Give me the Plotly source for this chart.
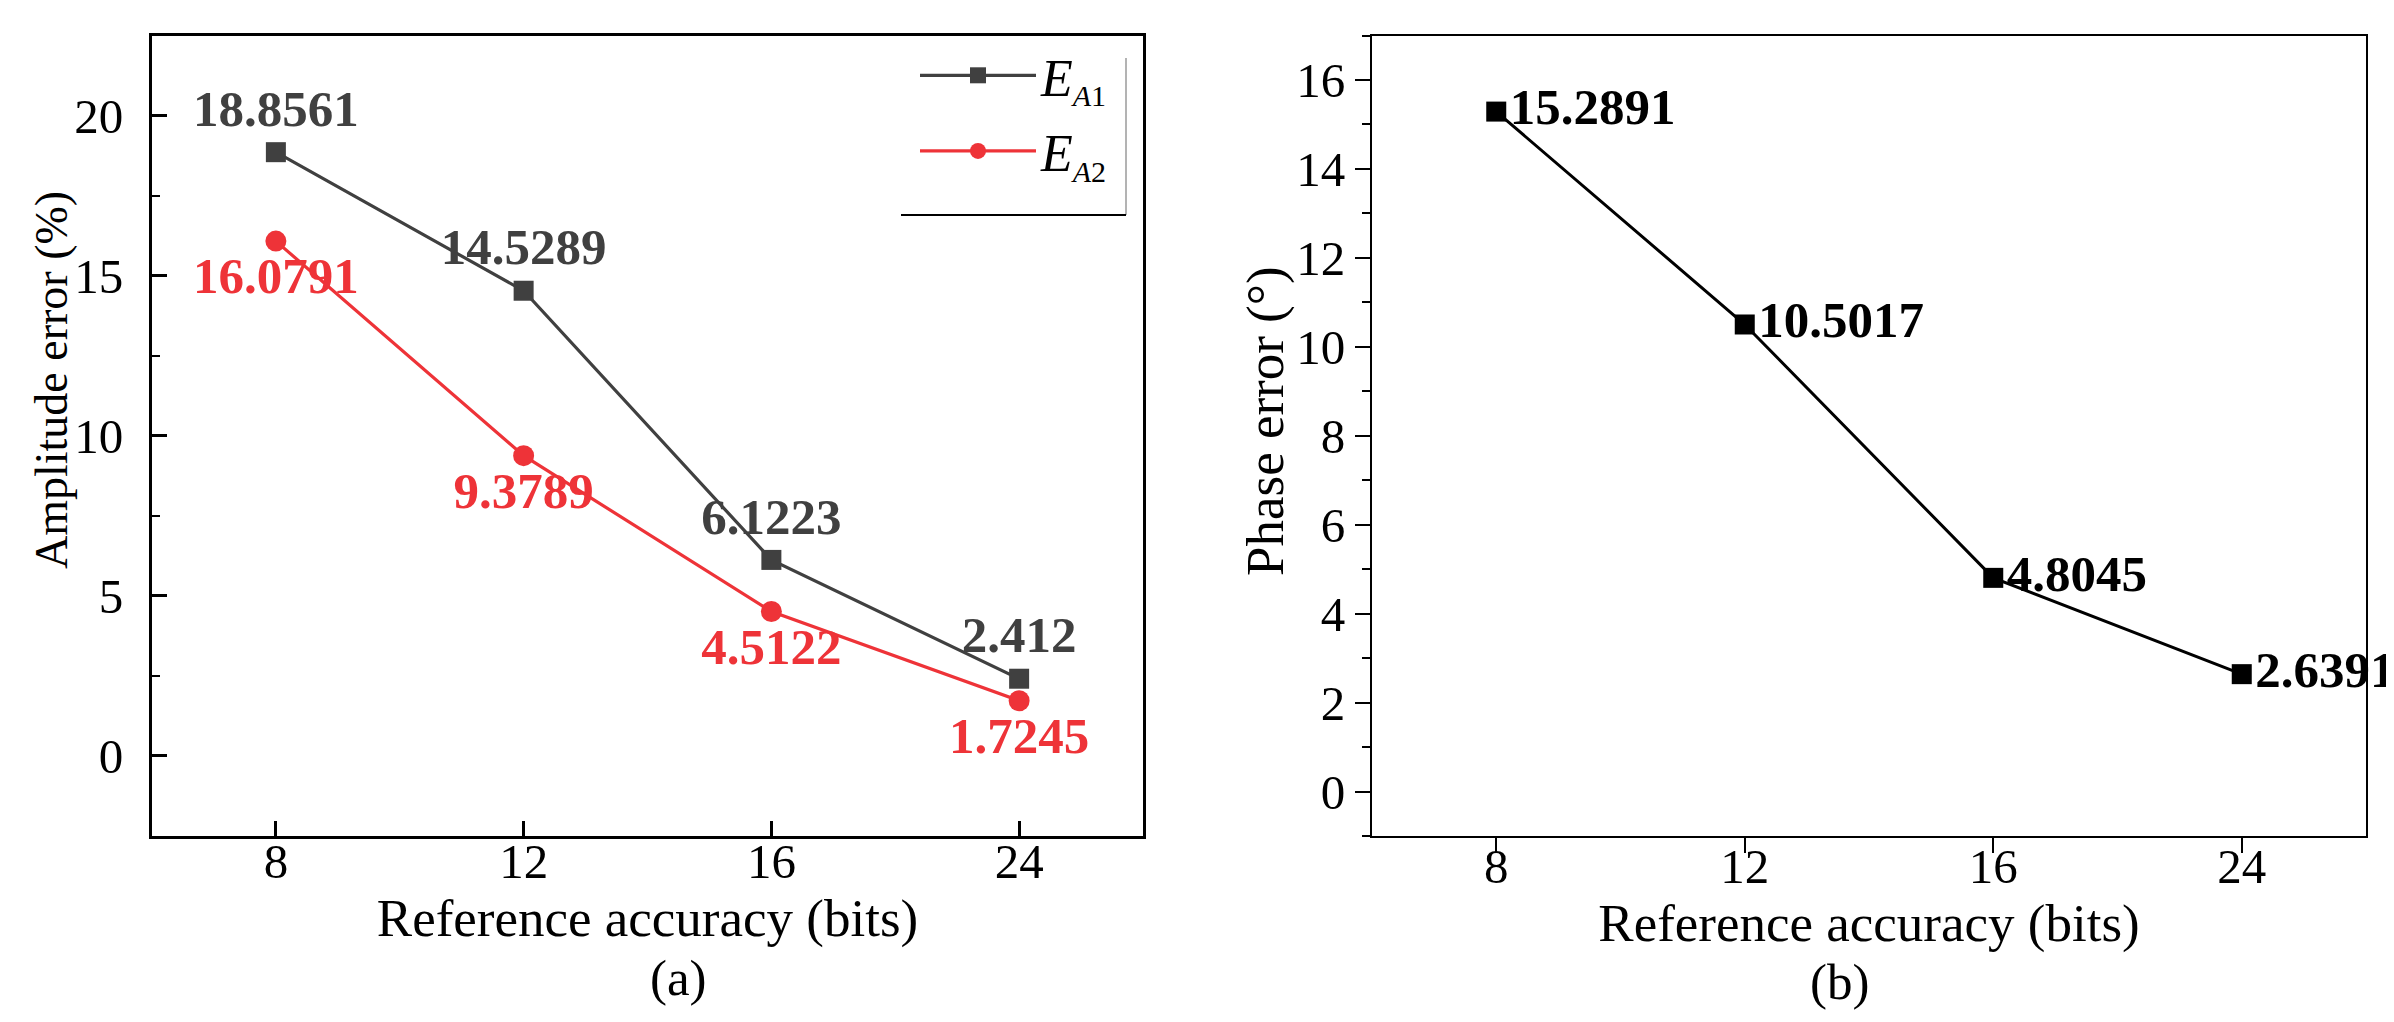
import plotly.graph_objects as go

# ---- data ----
bits = ["8", "12", "16", "24"]
amp_ea1 = [18.8561, 14.5289, 6.1223, 2.412]
amp_ea2 = [16.0791, 9.3789, 4.5122, 1.7245]
phase_err = [15.2891, 10.5017, 4.8045, 2.6391]

name_ea1 = "<i>E</i><sub><span style='font-size:30px'><i>A</i>1</span></sub>"
name_ea2 = "<i>E</i><sub><span style='font-size:30px'><i>A</i>2</span></sub>"

GRAY = "#404040"
RED = "#EE3338"
FONT = "Liberation Serif"
W, H = 2394, 1022

fig = go.Figure()

fig.add_trace(go.Scatter(
    x=bits, y=amp_ea1, name=name_ea1, legendgroup="a", mode="lines+markers+text",
    line=dict(color=GRAY, width=3.2),
    marker=dict(symbol="square", size=20, color=GRAY),
    text=[str(v) for v in amp_ea1], textposition="top center",
    textfont=dict(family=FONT, size=51, color=GRAY, weight="bold"),
    cliponaxis=False, xaxis="x", yaxis="y",
))
fig.add_trace(go.Scatter(
    x=bits, y=amp_ea2, name=name_ea2, legendgroup="b", mode="lines+markers+text",
    line=dict(color=RED, width=3.2),
    marker=dict(symbol="circle", size=21, color=RED),
    text=[str(v) for v in amp_ea2], textposition="bottom center",
    textfont=dict(family=FONT, size=51, color=RED, weight="bold"),
    cliponaxis=False, xaxis="x", yaxis="y",
))
fig.add_trace(go.Scatter(
    x=bits, y=phase_err, name="Phase error", mode="lines+markers+text",
    line=dict(color="black", width=3),
    marker=dict(symbol="square", size=20, color="black"),
    text=[str(v) for v in phase_err], textposition="middle right",
    textfont=dict(family=FONT, size=51, color="black", weight="bold"),
    cliponaxis=False, showlegend=False, xaxis="x2", yaxis="y2",
))

x1d = [144 / W, 1135 / W]
x2d = [1364 / W, 2358 / W]
yd = [1 - 828 / H, 1 - 27.5 / H]

tickfont = dict(family=FONT, size=49, color="black")
titlefont = dict(family=FONT, size=53, color="black")

common_x = dict(type="category", range=[-0.5, 3.5], showgrid=False, zeroline=False,
                showline=True, linecolor="black", mirror=True, tickcolor="black",
                ticklen=15, tickfont=tickfont)
common_y = dict(showgrid=False, zeroline=False, showline=True, linecolor="black",
                mirror=True, tickcolor="black", ticklen=15, tickfont=tickfont)

fig.update_layout(
    width=W, height=H,
    margin=dict(l=0, r=0, t=0, b=0),
    paper_bgcolor="white", plot_bgcolor="white",
    font=dict(family=FONT, color="black"),
    xaxis=dict(common_x, domain=x1d, anchor="y", ticks="inside", linewidth=3, tickwidth=2.5,
               ticklabelstandoff=-20,
               title=dict(text="Reference accuracy (bits)", font=titlefont, standoff=0)),
    yaxis=dict(common_y, domain=yd, anchor="x", range=[-2.5, 22.5], tick0=0, dtick=5,
               ticks="inside", linewidth=3, tickwidth=2.5, ticklabelstandoff=16,
               minor=dict(dtick=2.5, tick0=0, ticks="inside", ticklen=8, tickwidth=2, tickcolor="black", showgrid=False)),
    xaxis2=dict(common_x, domain=x2d, anchor="y2", ticks="outside", linewidth=2, tickwidth=2,
                ticklabelstandoff=-29,
                title=dict(text="Reference accuracy (bits)", font=titlefont, standoff=0)),
    yaxis2=dict(common_y, domain=yd, anchor="x2", range=[-1, 17], tick0=0, dtick=2,
                ticks="outside", linewidth=2, tickwidth=2,
                minor=dict(dtick=1, tick0=0, ticks="outside", ticklen=8, tickwidth=2, tickcolor="black", showgrid=False)),
    legend=dict(x=907 / W, y=1 - 27 / H, xanchor="left", yanchor="top",
                bgcolor="rgba(0,0,0,0)", borderwidth=0, traceorder="grouped",
                font=dict(family=FONT, size=52, color="black"),
                itemwidth=116, tracegroupgap=5),
    annotations=[
        dict(text="Amplitude error (%)", x=43 / W, y=1 - 372 / H, xref="paper", yref="paper",
             textangle=-90, showarrow=False, xanchor="center", yanchor="middle",
             font=dict(family=FONT, size=46, color="black")),
        dict(text="Phase error (°)", x=1257 / W, y=1 - 413 / H, xref="paper", yref="paper",
             textangle=-90, showarrow=False, xanchor="center", yanchor="middle",
             font=dict(family=FONT, size=53, color="black")),
        dict(text="(a)", x=640 / W, y=1 - 1000 / H, xref="paper", yref="paper",
             showarrow=False, font=dict(family=FONT, size=51, color="black")),
        dict(text="(b)", x=1863 / W, y=1 - 1004 / H, xref="paper", yref="paper",
             showarrow=False, font=dict(family=FONT, size=51, color="black")),
    ],
    shapes=[
        dict(type="line", xref="paper", yref="paper", x0=1118 / W, x1=1118 / W,
             y0=1 - 207 / H, y1=1 - 50 / H, line=dict(color="#9a9a9a", width=1.5)),
        dict(type="line", xref="paper", yref="paper", x0=893 / W, x1=1118 / W,
             y0=1 - 207 / H, y1=1 - 207 / H, line=dict(color="black", width=2)),
    ],
)

fig.write_html("out.html")
